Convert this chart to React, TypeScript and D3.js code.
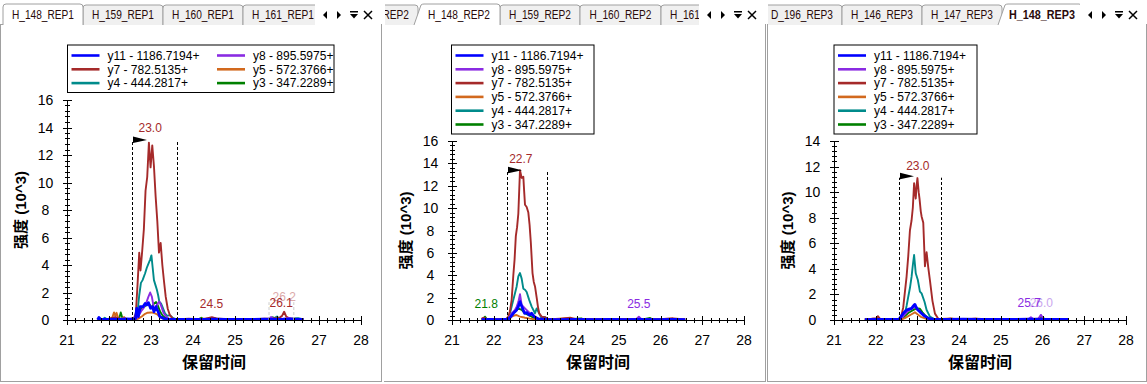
import React, { useEffect } from 'react'
import * as d3 from 'd3'

type Pt = [number, number]

// ---- data (intensity in 10^3) ----
const xTicks = [21, 22, 23, 24, 25, 26, 27, 28]
const yTicks16 = [0, 2, 4, 6, 8, 10, 12, 14, 16]
const yTicks14 = [0, 2, 4, 6, 8, 10, 12, 14]

const ionNames = ['y11 - 1186.7194+', 'y8 - 895.5975+', 'y7 - 782.5135+', 'y5 - 572.3766+', 'y4 - 444.2817+', 'y3 - 347.2289+']
const ionColors = ['#0000ff', '#8a2be2', '#a52a2a', '#d2691e', '#008b8b', '#008000']
const legendOrder = [0, 1, 2, 3, 4, 5]

const tabs1 = ['H_148_REP1', 'H_159_REP1', 'H_160_REP1', 'H_161_REP1']
const tabs2 = ['H_147_REP2', 'H_148_REP2', 'H_159_REP2', 'H_160_REP2', 'H_161_REP2']
const tabs3 = ['D_196_REP3', 'H_146_REP3', 'H_147_REP3', 'H_148_REP3']

// REP1
const p1Y11: Pt[] = [[21.73,0.02],[21.76,0.18],[21.80,0.05],[21.95,0.04],[22.1,0.06],[22.25,0.05],[22.4,0.08],[22.55,0.06],[22.63,0.1],[22.66,0.85],[22.70,0.25],[22.74,0.97],[22.81,0.97],[22.86,1.2],[22.90,1.1],[22.94,1.26],[22.99,0.85],[23.04,0.97],[23.07,0.6],[23.12,0.97],[23.17,0.6],[23.21,0.25],[23.29,0.12],[23.4,0.05],[23.6,0.04],[23.9,0.05],[24.2,0.04],[24.5,0.06],[24.8,0.04],[25.1,0.05],[25.4,0.04],[25.7,0.06],[26.0,0.05],[26.3,0.06],[26.63,0.04]]
const p1Y8: Pt[] = [[21.73,0.03],[21.9,0.05],[22.1,0.04],[22.3,0.06],[22.5,0.05],[22.62,0.05],[22.67,0.15],[22.72,0.4],[22.78,0.7],[22.83,0.9],[22.88,1.2],[22.94,1.7],[22.98,2.0],[23.02,1.7],[23.07,0.85],[23.11,0.9],[23.16,1.2],[23.20,1.35],[23.25,0.95],[23.30,0.5],[23.35,0.3],[23.42,0.1],[23.6,0.05],[23.9,0.04],[24.3,0.06],[24.7,0.05],[25.1,0.04],[25.5,0.06],[25.8,0.1],[25.86,0.22],[25.92,0.08],[26.1,0.06],[26.3,0.15],[26.4,0.06],[26.63,0.04]]
const p1Y7: Pt[] = [[21.73,0.05],[21.85,0.08],[22.0,0.1],[22.15,0.2],[22.25,0.1],[22.4,0.08],[22.52,0.1],[22.60,0.15],[22.64,0.5],[22.68,2.6],[22.72,4.9],[22.75,3.6],[22.79,5.0],[22.83,6.6],[22.87,9.4],[22.91,10.4],[22.95,12.9],[22.99,11.1],[23.03,12.7],[23.07,11.2],[23.11,9.0],[23.15,7.2],[23.19,4.9],[23.23,5.6],[23.27,4.0],[23.31,2.8],[23.35,1.7],[23.40,0.8],[23.45,0.35],[23.52,0.1],[23.7,0.05],[23.9,0.1],[24.1,0.05],[24.3,0.1],[24.45,0.2],[24.55,0.12],[24.8,0.05],[25.1,0.08],[25.4,0.05],[25.7,0.1],[25.9,0.12],[26.05,0.15],[26.12,0.3],[26.17,0.6],[26.22,0.25],[26.3,0.1],[26.45,0.08],[26.63,0.05]]
const p1Y5: Pt[] = [[21.73,0.05],[21.9,0.06],[22.04,0.08],[22.08,0.2],[22.12,0.55],[22.15,0.3],[22.18,0.52],[22.22,0.12],[22.30,0.08],[22.36,0.22],[22.40,0.06],[22.55,0.04],[22.62,0.02],[22.70,0.1],[22.78,0.25],[22.86,0.45],[22.92,0.53],[23.00,0.55],[23.08,0.5],[23.15,0.4],[23.22,0.2],[23.30,0.1],[23.40,0.05],[23.7,0.06],[24.0,0.05],[24.4,0.12],[24.5,0.15],[24.6,0.06],[25.0,0.05],[25.4,0.06],[25.8,0.05],[26.1,0.08],[26.4,0.1],[26.63,0.04]]
const p1Y4: Pt[] = [[21.73,0.04],[21.85,0.05],[21.90,0.16],[21.95,0.05],[22.2,0.08],[22.4,0.05],[22.55,0.06],[22.62,0.1],[22.68,0.6],[22.72,1.8],[22.76,2.7],[22.80,2.9],[22.86,3.4],[22.90,3.8],[22.94,4.1],[22.98,4.4],[23.01,4.7],[23.04,3.8],[23.07,2.9],[23.11,2.5],[23.14,2.2],[23.17,1.8],[23.20,1.3],[23.24,1.2],[23.28,0.9],[23.33,0.5],[23.38,0.3],[23.45,0.35],[23.52,0.15],[23.6,0.05],[24.0,0.06],[24.4,0.05],[24.8,0.06],[25.2,0.04],[25.6,0.06],[25.9,0.08],[26.0,0.25],[26.06,0.08],[26.3,0.1],[26.5,0.14],[26.63,0.05]]
const p1Y3: Pt[] = [[21.73,0.04],[21.95,0.05],[22.15,0.06],[22.24,0.1],[22.28,0.55],[22.32,0.12],[22.45,0.05],[22.62,0.05],[22.68,0.3],[22.74,0.7],[22.80,0.9],[22.86,1.0],[22.92,1.2],[22.97,1.1],[23.02,0.9],[23.07,1.2],[23.12,1.3],[23.17,1.0],[23.22,0.6],[23.28,0.3],[23.35,0.15],[23.45,0.05],[23.8,0.06],[24.15,0.08],[24.2,0.16],[24.25,0.06],[24.7,0.05],[25.2,0.06],[25.6,0.05],[25.85,0.1],[25.9,0.2],[25.95,0.06],[26.3,0.08],[26.63,0.04]]

// REP2
const p2Y11: Pt[] = [[21.71,0.03],[21.9,0.05],[22.1,0.04],[22.3,0.06],[22.35,0.06],[22.41,0.3],[22.47,0.6],[22.55,0.9],[22.59,1.2],[22.63,1.64],[22.69,1.04],[22.74,0.6],[22.79,0.66],[22.85,0.45],[22.91,0.6],[22.97,0.3],[23.07,0.09],[23.3,0.05],[23.6,0.04],[24.0,0.06],[24.4,0.04],[24.8,0.05],[25.2,0.04],[25.5,0.06],[25.9,0.04],[26.3,0.05],[26.59,0.04]]
const p2Y8: Pt[] = [[21.71,0.04],[22.0,0.05],[22.3,0.06],[22.39,0.3],[22.43,0.6],[22.47,0.74],[22.51,0.9],[22.55,1.19],[22.59,1.6],[22.63,2.3],[22.67,1.34],[22.75,1.04],[22.83,0.74],[22.91,0.45],[22.99,0.3],[23.08,0.1],[23.3,0.05],[23.8,0.06],[24.3,0.05],[24.8,0.06],[25.3,0.05],[25.42,0.1],[25.48,0.3],[25.54,0.08],[25.9,0.05],[26.3,0.06],[26.59,0.04]]
const p2Y7: Pt[] = [[21.71,0.1],[21.75,0.2],[21.85,0.08],[22.0,0.1],[22.15,0.05],[22.3,0.1],[22.35,0.3],[22.39,0.8],[22.43,1.8],[22.47,4.0],[22.50,5.4],[22.53,7.5],[22.56,8.3],[22.59,9.5],[22.63,13.4],[22.67,12.7],[22.71,12.8],[22.73,11.5],[22.75,10.3],[22.79,10.1],[22.83,9.6],[22.86,8.5],[22.89,6.9],[22.93,4.2],[22.96,3.4],[22.99,3.0],[23.03,2.0],[23.06,1.2],[23.09,0.6],[23.15,0.3],[23.22,0.25],[23.3,0.1],[23.5,0.05],[23.83,0.2],[24.0,0.05],[24.4,0.08],[24.8,0.05],[25.2,0.1],[25.6,0.05],[26.0,0.08],[26.3,0.15],[26.59,0.05]]
const p2Y5: Pt[] = [[21.71,0.12],[21.75,0.05],[22.0,0.06],[22.3,0.05],[22.38,0.1],[22.43,0.3],[22.49,0.4],[22.55,0.45],[22.60,0.35],[22.63,0.3],[22.70,0.25],[22.75,0.2],[22.87,0.12],[23.0,0.05],[23.3,0.04],[23.83,0.18],[23.9,0.05],[24.4,0.06],[24.9,0.05],[25.4,0.06],[25.9,0.05],[26.3,0.1],[26.59,0.05]]
const p2Y4: Pt[] = [[21.71,0.05],[22.0,0.04],[22.3,0.05],[22.35,0.1],[22.39,0.6],[22.43,1.2],[22.47,1.8],[22.51,2.4],[22.55,3.0],[22.59,3.9],[22.63,4.2],[22.67,3.7],[22.71,2.8],[22.75,2.7],[22.79,2.5],[22.85,1.8],[22.91,1.2],[22.99,0.6],[23.03,1.04],[23.07,0.74],[23.15,0.15],[23.22,0.28],[23.3,0.06],[23.7,0.05],[24.2,0.06],[24.7,0.05],[25.2,0.06],[25.7,0.05],[26.1,0.08],[26.59,0.04]]
const p2Y3: Pt[] = [[21.71,0.05],[21.76,0.1],[21.79,0.3],[21.83,0.08],[22.0,0.05],[22.3,0.06],[22.39,0.3],[22.45,0.55],[22.51,0.74],[22.59,1.04],[22.67,0.9],[22.75,0.6],[22.83,0.45],[22.91,0.3],[23.0,0.1],[23.3,0.05],[23.7,0.06],[24.1,0.14],[24.15,0.05],[24.6,0.06],[25.1,0.05],[25.6,0.08],[25.75,0.18],[25.8,0.06],[26.2,0.05],[26.59,0.04]]

// REP3
const p3Y11: Pt[] = [[21.74,0.03],[22.0,0.05],[22.3,0.04],[22.55,0.06],[22.58,0.13],[22.62,0.35],[22.66,0.52],[22.74,0.78],[22.80,0.85],[22.86,0.91],[22.90,1.1],[22.94,1.22],[22.97,1.0],[23.01,0.78],[23.06,0.65],[23.14,0.39],[23.26,0.13],[23.4,0.05],[23.7,0.04],[24.1,0.06],[24.5,0.04],[24.9,0.05],[25.3,0.04],[25.7,0.06],[26.1,0.04],[26.62,0.04]]
const p3Y8: Pt[] = [[21.74,0.04],[22.1,0.05],[22.5,0.04],[22.6,0.08],[22.66,0.3],[22.74,0.6],[22.82,0.8],[22.90,0.95],[22.94,1.05],[23.00,0.85],[23.06,0.6],[23.14,0.4],[23.24,0.15],[23.4,0.05],[23.8,0.06],[24.3,0.05],[24.8,0.06],[25.3,0.05],[25.66,0.08],[25.72,0.22],[25.78,0.06],[25.9,0.1],[25.96,0.4],[26.02,0.1],[26.3,0.06],[26.62,0.04]]
const p3Y7: Pt[] = [[21.74,0.05],[21.9,0.1],[22.02,0.15],[22.05,0.3],[22.1,0.1],[22.3,0.05],[22.5,0.08],[22.58,0.1],[22.62,0.4],[22.66,1.0],[22.70,2.2],[22.74,3.4],[22.78,5.0],[22.82,7.0],[22.86,7.8],[22.89,8.8],[22.92,10.7],[22.94,10.0],[22.96,9.5],[22.98,10.5],[23.00,11.1],[23.03,10.0],[23.05,9.5],[23.08,8.5],[23.10,8.1],[23.14,7.6],[23.18,4.2],[23.22,5.3],[23.26,4.1],[23.30,3.1],[23.36,1.5],[23.42,0.5],[23.50,0.1],[23.6,0.05],[23.8,0.1],[24.1,0.05],[24.4,0.1],[24.8,0.05],[25.2,0.08],[25.6,0.05],[25.9,0.1],[26.2,0.05],[26.62,0.05]]
const p3Y5: Pt[] = [[21.74,0.04],[22.0,0.06],[22.4,0.05],[22.62,0.05],[22.70,0.15],[22.78,0.3],[22.86,0.45],[22.94,0.6],[23.00,0.45],[23.08,0.25],[23.2,0.1],[23.35,0.04],[23.8,0.12],[23.9,0.05],[24.4,0.1],[24.5,0.05],[25.0,0.06],[25.5,0.05],[26.0,0.06],[26.62,0.04]]
const p3Y4: Pt[] = [[21.74,0.04],[22.1,0.05],[22.5,0.04],[22.62,0.1],[22.70,0.52],[22.74,1.1],[22.78,1.82],[22.82,2.5],[22.86,3.39],[22.89,4.3],[22.92,5.08],[22.96,3.65],[23.01,3.13],[23.06,2.22],[23.10,2.08],[23.17,1.43],[23.22,0.78],[23.30,0.26],[23.4,0.08],[23.8,0.05],[24.3,0.06],[24.8,0.05],[25.3,0.06],[25.8,0.05],[26.2,0.08],[26.62,0.04]]
const p3Y3: Pt[] = [[21.74,0.04],[22.1,0.06],[22.5,0.05],[22.62,0.08],[22.70,0.3],[22.78,0.55],[22.86,0.7],[22.94,0.85],[23.00,0.9],[23.06,0.88],[23.12,0.6],[23.2,0.3],[23.3,0.1],[23.45,0.05],[23.9,0.06],[24.4,0.05],[24.9,0.06],[25.4,0.05],[25.9,0.1],[26.0,0.2],[26.06,0.06],[26.62,0.04]]

// peak boundaries [start, end, top] and retention-time labels [text, time, intensity, ion]
const p1Bounds = [22.54, 23.63, 12.99]
const p2Bounds = [22.33, 23.27, 13.25]
const p3Bounds = [22.57, 23.56, 11.13]
const p1Labels: [string, number, number, number][] = [['23.0', 22.98, 13.64, 2], ['24.5', 24.44, 0.87, 2], ['26.1', 26.10, 0.94, 2]]
const p2Labels: [string, number, number, number][] = [['22.7', 22.65, 14.03, 2], ['21.8', 21.82, 1.07, 5], ['25.5', 25.48, 1.07, 1]]
const p3Labels: [string, number, number, number][] = [['23.0', 23.01, 11.73, 2], ['25.7', 25.68, 1.02, 1]]
// faded (non-chosen) peak labels
const p1Faded: [string, number, number, string][] = [['26.2', 26.17, 1.38, '#dcaaaa']]
const p3Faded: [string, number, number, string][] = [['26.0', 25.97, 1.02, '#c9a6ee']]
const p1FadedBounds = [25.81, 26.40, 1.3]

// ---- layout ----
const FONT = "'Liberation Sans', Arial, sans-serif"
const CJK = "'Liberation Sans', 'Noto Sans CJK SC', sans-serif"
const AXIS_Y = 320
const BORDER = '#a0a0a0'

interface PanelCfg {
  id: number
  x0: number
  x1: number
  ax0: number
  ax1: number
  yTop: number
  yMax: number
  yTicks: number[]
  tabs: string[]
  tabEdges: number[]
  active: number
  bold: boolean
  slant: boolean
  legend: [number, number, number, number]
  cols: number
  traces: Pt[][]
  bounds: number[]
  labels: [string, number, number, number][]
  faded: [string, number, number, string][]
  fadedBounds?: number[]
  leftBorder: boolean
}

const panels: PanelCfg[] = [
  {
    id: 1, x0: 0, x1: 382, ax0: 67, ax1: 361, yTop: 100, yMax: 16, yTicks: yTicks16,
    tabs: tabs1, tabEdges: [3, 83, 163, 243, 323], active: 0, bold: false, slant: false,
    legend: [67.5, 45, 334, 92.5], cols: 2,
    traces: [p1Y11, p1Y8, p1Y7, p1Y5, p1Y4, p1Y3], bounds: p1Bounds, labels: p1Labels,
    faded: p1Faded, fadedBounds: p1FadedBounds, leftBorder: true,
  },
  {
    id: 2, x0: 384, x1: 766, ax0: 452, ax1: 744, yTop: 141, yMax: 16, yTicks: yTicks16,
    tabs: tabs2, tabEdges: [338, 418, 500, 580, 661, 741], active: 1, bold: false, slant: true,
    legend: [451.5, 45, 594, 134], cols: 1,
    traces: [p2Y11, p2Y8, p2Y7, p2Y5, p2Y4, p2Y3], bounds: p2Bounds, labels: p2Labels,
    faded: [], leftBorder: false,
  },
  {
    id: 3, x0: 767, x1: 1147, ax0: 834, ax1: 1126, yTop: 141, yMax: 14, yTicks: yTicks14,
    tabs: tabs3, tabEdges: [762, 842, 922, 1002, 1082], active: 3, bold: true, slant: true,
    legend: [834, 45, 977, 134], cols: 1,
    traces: [p3Y11, p3Y8, p3Y7, p3Y5, p3Y4, p3Y3], bounds: p3Bounds, labels: p3Labels,
    faded: p3Faded, leftBorder: true,
  },
]

function tabPath(a: number, b: number, top: number, slant: boolean) {
  const bot = 25
  if (slant) {
    return `M${a - 4},${bot} L${a + 3},${top + 1} Q${a + 4},${top} ${a + 6},${top} L${b - 3},${top} Q${b},${top} ${b},${top + 3} L${b},${bot}`
  }
  return `M${a},${bot} L${a},${top + 3} Q${a},${top} ${a + 3},${top} L${b - 3},${top} Q${b},${top} ${b},${top + 3} L${b},${bot}`
}

function TabStrip({ cfg }: { cfg: PanelCfg }) {
  const clipId = `tabclip${cfg.id}`
  const clipRight = cfg.x1 - 67
  const order = cfg.tabs.map((_, i) => i).filter(i => i !== cfg.active)
  const icons = [cfg.x1 - 57, cfg.x1 - 43, cfg.x1 - 28, cfg.x1 - 14]
  const renderTab = (i: number) => {
    const a = cfg.tabEdges[i]
    const b = cfg.tabEdges[i + 1]
    const active = i === cfg.active
    return (
      <g key={i}>
        <path
          d={tabPath(a, b, active ? 4 : 5, active && cfg.slant)}
          fill={active ? '#ffffff' : '#f0f0f0'}
          stroke={BORDER}
          strokeWidth={1}
        />
        <text
          x={(a + b) / 2}
          y={19}
          textAnchor="middle"
          fontFamily={FONT}
          fontSize={12}
          fontWeight={active && cfg.bold ? 700 : 400}
          textLength={active && cfg.bold ? 66 : 62}
          lengthAdjust="spacingAndGlyphs"
          fill="#2a0a0a"
        >
          {cfg.tabs[i]}
        </text>
      </g>
    )
  }
  return (
    <g>
      <clipPath id={clipId}>
        <rect x={cfg.x0 + 1} y={0} width={clipRight - cfg.x0 - 1} height={26} />
      </clipPath>
      <g clipPath={`url(#${clipId})`}>
        <line x1={cfg.x0} x2={clipRight} y1={24.5} y2={24.5} stroke={BORDER} />
        {order.map(renderTab)}
        {renderTab(cfg.active)}
      </g>
      <polygon points={`${icons[0] + 2},11 ${icons[0] + 2},19 ${icons[0] - 2},15`} fill="#000" />
      <polygon points={`${icons[1] - 2},11 ${icons[1] - 2},19 ${icons[1] + 2},15`} fill="#000" />
      <rect x={icons[2] - 4} y={11} width={8} height={1.5} fill="#000" />
      <polygon points={`${icons[2] - 4},14 ${icons[2] + 4},14 ${icons[2]},18.5`} fill="#000" />
      <path d={`M${icons[3] - 4},11 L${icons[3] + 4},19 M${icons[3] + 4},11 L${icons[3] - 4},19`} stroke="#000" strokeWidth={1.5} />
    </g>
  )
}

function Panel({ cfg }: { cfg: PanelCfg }) {
  const x = d3.scaleLinear().domain([21, 28]).range([cfg.ax0, cfg.ax1])
  const y = d3.scaleLinear().domain([0, cfg.yMax]).range([AXIS_Y, cfg.yTop])
  const line = d3.line<Pt>().x(d => x(d[0])).y(d => y(d[1]))
  const xMinor = d3.range(21, 28.0001, 0.2)
  const yMinor = d3.range(0, cfg.yMax + 0.0001, 0.4)
  const [lx0, ly0, lx1, ly1] = cfg.legend
  const drawOrder = [5, 4, 3, 2, 1, 0]

  return (
    <g>
      {/* frame */}
      {cfg.leftBorder && <line x1={cfg.x0 + 0.5} x2={cfg.x0 + 0.5} y1={24} y2={382} stroke={BORDER} />}
      <line x1={cfg.x1 - 0.5} x2={cfg.x1 - 0.5} y1={24} y2={382} stroke={BORDER} />
      <line x1={cfg.x0} x2={cfg.x1} y1={381.5} y2={381.5} stroke={BORDER} />
      <TabStrip cfg={cfg} />

      {/* legend */}
      <rect x={lx0} y={ly0} width={lx1 - lx0} height={ly1 - ly0} fill="#fff" stroke="#000" />
      {legendOrder.map((ion, i) => {
        const col = cfg.cols === 2 ? i % 2 : 0
        const row = cfg.cols === 2 ? Math.floor(i / 2) : i
        const bx = lx0 + col * 145.5
        const by = ly0 + 10.5 + row * 13.8
        return (
          <g key={ion}>
            <line x1={bx + 4} x2={bx + 32} y1={by} y2={by} stroke={ionColors[ion]} strokeWidth={2.6} />
            <text x={bx + 40} y={by} dy="0.36em" fontFamily={FONT} fontSize={12} fill="#000">
              {ionNames[ion]}
            </text>
          </g>
        )
      })}

      {/* traces */}
      {drawOrder.map(i => (
        <path
          key={i}
          d={line(cfg.traces[i]) || ''}
          fill="none"
          stroke={ionColors[i]}
          strokeWidth={i === 0 ? 2.8 : 1.9}
          strokeLinejoin="round"
        />
      ))}

      {/* faded peak boundaries */}
      {cfg.fadedBounds && [cfg.fadedBounds[0], cfg.fadedBounds[1]].map((t, i) => (
        <line key={i} x1={x(t)} x2={x(t)} y1={y(0)} y2={y(cfg.fadedBounds![2])} stroke="#cccccc" strokeDasharray="3,2" />
      ))}
      {/* chosen peak boundaries */}
      {[cfg.bounds[0], cfg.bounds[1]].map((t, i) => (
        <line
          key={i}
          x1={Math.round(x(t)) + 0.5}
          x2={Math.round(x(t)) + 0.5}
          y1={y(0)}
          y2={y(cfg.bounds[2])}
          stroke="#000"
          strokeDasharray="3,2"
        />
      ))}
      {(() => {
        const fx = Math.round(x(cfg.bounds[0])) + 1
        const fy = y(cfg.bounds[2])
        return <polygon points={`${fx},${fy - 5} ${fx + 14},${fy - 1.5} ${fx},${fy + 1.5}`} fill="#000" />
      })()}

      {/* peak labels */}
      {cfg.faded.map(([txt, t, v, c]) => (
        <text key={txt} x={x(t)} y={y(v)} textAnchor="middle" fontFamily={FONT} fontSize={12} fill={c}>{txt}</text>
      ))}
      {cfg.labels.map(([txt, t, v, ion]) => (
        <text key={txt} x={x(t)} y={y(v)} textAnchor="middle" fontFamily={FONT} fontSize={12} fill={ionColors[ion]}>{txt}</text>
      ))}

      {/* x axis */}
      <line x1={x(21)} x2={x(28)} y1={AXIS_Y + 0.5} y2={AXIS_Y + 0.5} stroke="#000" />
      {xMinor.map(t => (
        <line key={t} x1={Math.round(x(t)) + 0.5} x2={Math.round(x(t)) + 0.5} y1={AXIS_Y - 2} y2={AXIS_Y + 3} stroke="#000" />
      ))}
      {xTicks.map(t => (
        <g key={t}>
          <line x1={Math.round(x(t)) + 0.5} x2={Math.round(x(t)) + 0.5} y1={AXIS_Y - 4} y2={AXIS_Y + 5} stroke="#000" />
          <text x={x(t)} y={345} textAnchor="middle" fontFamily={FONT} fontSize={14} fill="#000">{t}</text>
        </g>
      ))}
      <text x={(cfg.ax0 + cfg.ax1) / 2} y={368} textAnchor="middle" fontFamily={CJK} fontSize={16} fontWeight={700} fill="#000">
        保留时间
      </text>

      {/* y axis */}
      <line x1={cfg.ax0 + 0.5} x2={cfg.ax0 + 0.5} y1={y(0)} y2={y(cfg.yMax)} stroke="#000" />
      {yMinor.map(v => (
        <line key={v} x1={cfg.ax0 - 2} x2={cfg.ax0 + 3} y1={Math.round(y(v)) + 0.5} y2={Math.round(y(v)) + 0.5} stroke="#000" />
      ))}
      {cfg.yTicks.map(v => (
        <g key={v}>
          <line x1={cfg.ax0 - 4} x2={cfg.ax0 + 5} y1={Math.round(y(v)) + 0.5} y2={Math.round(y(v)) + 0.5} stroke="#000" />
          <text x={cfg.ax0 - 21.5} y={y(v)} dy="0.36em" textAnchor="middle" fontFamily={FONT} fontSize={14} fill="#000">{v}</text>
        </g>
      ))}
      <text
        transform={`translate(${cfg.ax0 - 41},${(y(0) + y(cfg.yMax)) / 2}) rotate(-90)`}
        textAnchor="middle"
        fontFamily={CJK}
        fontSize={15}
        fontWeight={700}
        fill="#000"
      >
        强度 (10^3)
      </text>
    </g>
  )
}

export default function App() {
  useEffect(() => {
    document.body.style.margin = '0'
  }, [])
  return (
    <svg width={1147} height={384} style={{ display: 'block', position: 'absolute', left: 0, top: 0, background: '#fff' }}>
      <rect width={1147} height={384} fill="#fff" />
      {panels.map(p => (
        <Panel key={p.id} cfg={p} />
      ))}
    </svg>
  )
}
